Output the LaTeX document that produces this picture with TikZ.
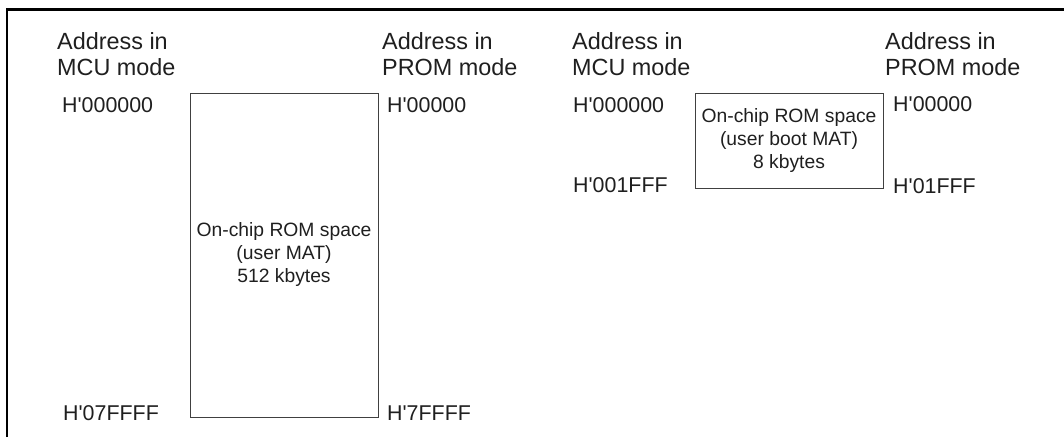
\documentclass[tikz,border=0pt]{standalone}
\usepackage{fontspec}
\setmainfont{Liberation Sans}
\newcommand{\hq}{H\textquotesingle}
\begin{document}
\begin{tikzpicture}[x=1pt,y=-1pt,
  title/.style={anchor=base west, inner sep=0pt, align=left, font=\fontsize{23.4}{25.5}\selectfont, text=black!88},
  addr/.style={anchor=base west, inner sep=0pt, font=\fontsize{21.4}{24}\selectfont, text=black!88},
  membox/.style={draw=black!75, line width=1pt, align=center, inner sep=0pt, font=\fontsize{19.3}{23}\selectfont, text=black!88},
  frameline/.style={line width=2.6pt}]
\useasboundingbox (0,0) rectangle (1064,437);
\draw[frameline] (7,437) -- (7,9.5) -- (1064,9.5);

% titles (base anchor = baseline of the last line)
\node[title] (t1) at (57,75) {Address in\\MCU mode};
\node[title] (t2) at (382,75) {Address in\\PROM mode};
\node[title] (t3) at (572,75) {Address in\\MCU mode};
\node[title] (t4) at (885,75) {Address in\\PROM mode};

% memory boxes
\node[membox, minimum width=188pt, minimum height=324pt] (mat) at (284,255)
  {On-chip ROM space\\(user MAT)\\512 kbytes};
\node[membox, minimum width=188pt, minimum height=95pt] (boot) at (789,140.5)
  {On-chip ROM space\\(user boot MAT)\\8 kbytes};

% addresses
\node[addr] (a1) at (62,112) {\hq000000};
\node[addr] (a2) at (63,420) {\hq07FFFF};
\node[addr] (a3) at (387,112) {\hq00000};
\node[addr] (a4) at (387,420) {\hq7FFFF};
\node[addr] (a5) at (573,112) {\hq000000};
\node[addr] (a6) at (573,192) {\hq001FFF};
\node[addr] (a7) at (893,111) {\hq00000};
\node[addr] (a8) at (893,193) {\hq01FFF};
\end{tikzpicture}
\end{document}
